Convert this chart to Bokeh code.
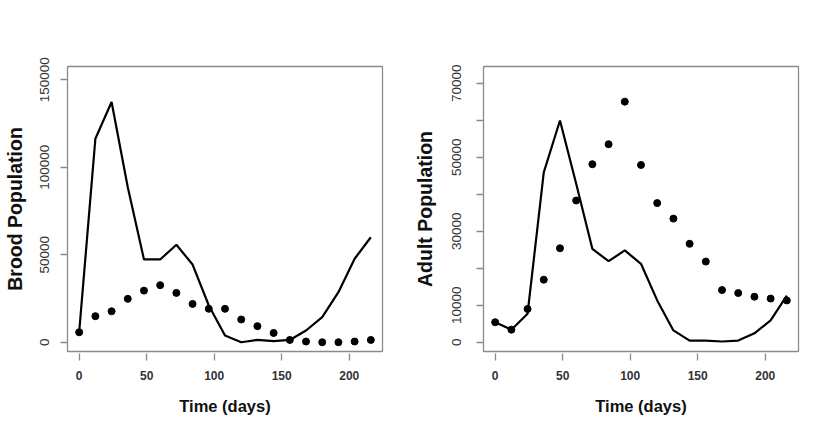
from bokeh.plotting import figure
from bokeh.models import Range1d, FixedTicker
from bokeh.layouts import row
from bokeh.embed import file_html
from bokeh.resources import INLINE

# ---- data ----
time_days = [0, 12, 24, 36, 48, 60, 72, 84, 96, 108, 120, 132, 144, 156, 168, 180, 192, 204, 216]
brood_model = [5700, 116300, 137300, 88600, 47300, 47300, 55700, 44400, 21000, 3800,
               0, 1300, 600, 1300, 6700, 14300, 28600, 47700, 60000]
brood_obs = [5700, 14900, 17700, 24800, 29500, 32600, 28200, 21900, 19100, 19100,
             13000, 9200, 5300, 1300, 400, 0, 0, 400, 1300]
adult_model = [5400, 3400, 7700, 45900, 59900, 42800, 25200, 21900, 24800, 21200,
               11300, 3200, 450, 450, 200, 450, 2400, 5900, 12600]
adult_obs = [5400, 3400, 9000, 16900, 25400, 38300, 48100, 53500, 65000, 47900,
             37600, 33400, 26600, 21800, 14100, 13300, 12300, 11800, 11300]

x_ticks = [0, 50, 100, 150, 200]
brood_ticks = [0, 50000, 100000, 150000]
brood_tick_labels = ["0", "50000", "100000", "150000"]
adult_ticks = [0, 10000, 20000, 30000, 40000, 50000, 60000, 70000]
adult_tick_labels = ["0", "10000", "", "30000", "", "50000", "", "70000"]

FONT = "Liberation Sans"
AX_GRAY = "#8a8a8a"


def make_fig(ml, mr, y_range, ylabel, yticks, ylabels, ystand, ytitle_stand):
    p = figure(frame_width=315, frame_height=285,
               x_range=Range1d(-8.64, 224.64), y_range=y_range,
               output_backend="svg", toolbar_location=None,
               min_border_left=ml, min_border_right=mr,
               min_border_top=66, min_border_bottom=76)
    p.xgrid.visible = False
    p.ygrid.visible = False
    p.background_fill_color = "white"
    p.border_fill_color = "white"
    p.outline_line_color = AX_GRAY
    p.outline_line_width = 1.3

    xa = p.xaxis[0]
    xa.ticker = FixedTicker(ticks=x_ticks)
    xa.major_label_overrides = {t: str(t) for t in x_ticks}
    xa.axis_line_color = None
    xa.major_tick_in = -2
    xa.major_tick_out = 9
    xa.minor_tick_line_color = None
    xa.major_tick_line_color = AX_GRAY
    xa.major_tick_line_width = 1.3
    xa.major_label_standoff = 10
    xa.major_label_text_font = FONT
    xa.major_label_text_font_style = "bold"
    xa.major_label_text_font_size = "12px"
    xa.major_label_text_color = "#333333"
    xa.axis_label = "Time (days)"
    xa.axis_label_text_font = FONT
    xa.axis_label_text_font_style = "bold"
    xa.axis_label_text_font_size = "16.5px"
    xa.axis_label_text_color = "#111111"
    xa.axis_label_standoff = 14

    ya = p.yaxis[0]
    ya.ticker = FixedTicker(ticks=yticks)
    ya.major_label_overrides = {t: l for t, l in zip(yticks, ylabels)}
    ya.axis_line_color = None
    ya.major_tick_in = 0
    ya.major_tick_out = 7
    ya.minor_tick_line_color = None
    ya.major_tick_line_color = AX_GRAY
    ya.major_tick_line_width = 1.3
    ya.major_label_orientation = "vertical"
    ya.major_label_standoff = ystand
    ya.major_label_text_font = FONT
    ya.major_label_text_font_size = "13.5px"
    ya.major_label_text_color = "#333333"
    ya.axis_label = ylabel
    ya.axis_label_text_font = FONT
    ya.axis_label_text_font_style = "bold"
    ya.axis_label_text_font_size = "19.5px"
    ya.axis_label_text_color = "#111111"
    ya.axis_label_standoff = ytitle_stand
    return p


p1 = make_fig(67, 19, Range1d(-5300, 157600), "Brood Population",
              brood_ticks, brood_tick_labels, 11, 12)
p1.line(time_days, brood_model, line_color="black", line_width=2.2)
p1.scatter(time_days, brood_obs, size=7, color="black")

p2 = make_fig(82, 12, Range1d(-2500, 74500), "Adult Population",
              adult_ticks, adult_tick_labels, 15, 14)
p2.line(time_days, adult_model, line_color="black", line_width=2.2)
p2.scatter(time_days, adult_obs, size=7, color="black")

layout = row(p1, p2)
open("out.html", "w").write(file_html(layout, INLINE))
